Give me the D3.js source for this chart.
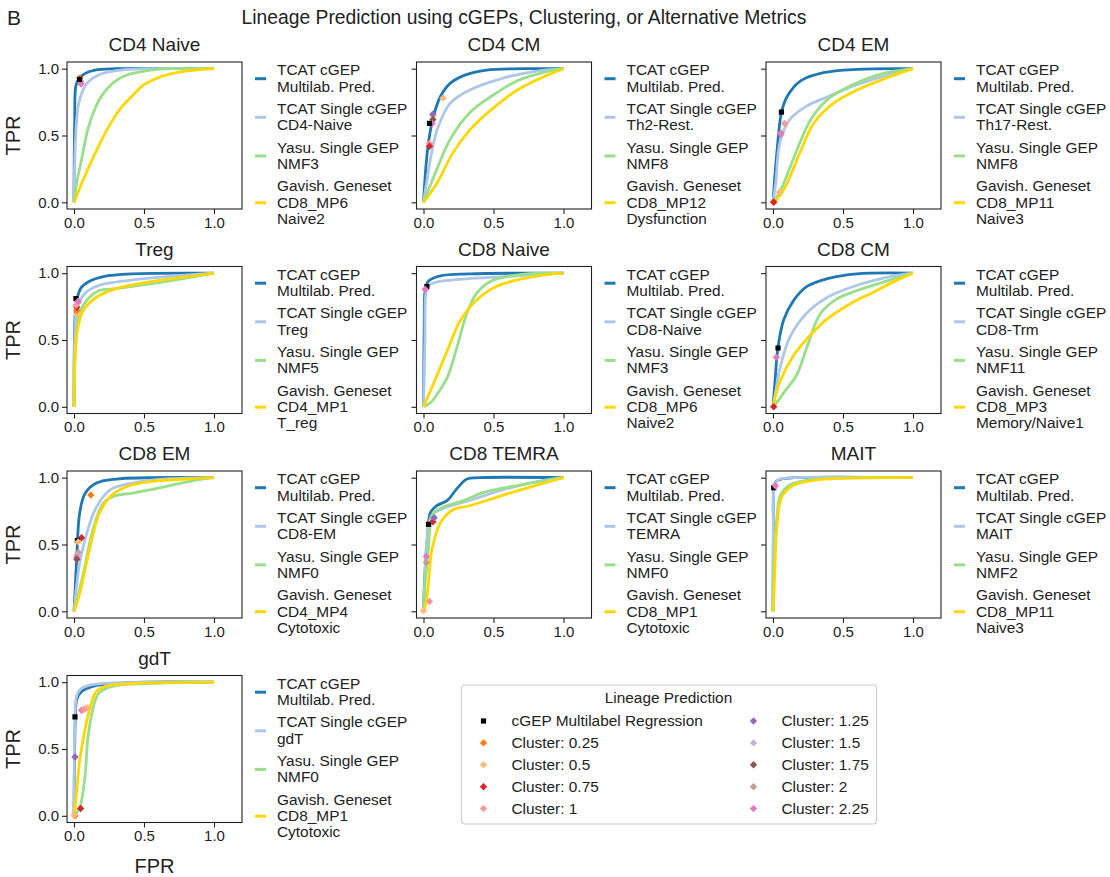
<html>
<head>
<style>
  body { margin: 0; background: #fff; }
  text { font-family: "Liberation Sans", Arial, sans-serif; fill: #222; }
</style>
</head>
<body>
<svg></svg>
<script src="https://d3js.org/d3.v7.min.js"></script>
<script>
// panel titles and legend labels
const titles = ["CD4 Naive", "CD4 CM", "CD4 EM", "Treg", "CD8 Naive", "CD8 CM",
                "CD8 EM", "CD8 TEMRA", "MAIT", "gdT"];
const singleLabels = ["CD4-Naive", "Th2-Rest.", "Th17-Rest.", "Treg", "CD8-Naive",
                      "CD8-Trm", "CD8-EM", "TEMRA", "MAIT", "gdT"];
const yasuLabels = ["NMF3", "NMF8", "NMF8", "NMF5", "NMF3", "NMF11", "NMF0", "NMF0", "NMF2", "NMF0"];
const gavishLabels = [["CD8_MP6", "Naive2"], ["CD8_MP12", "Dysfunction"], ["CD8_MP11", "Naive3"],
                      ["CD4_MP1", "T_reg"], ["CD8_MP6", "Naive2"], ["CD8_MP3", "Memory/Naive1"],
                      ["CD4_MP4", "Cytotoxic"], ["CD8_MP1", "Cytotoxic"], ["CD8_MP11", "Naive3"],
                      ["CD8_MP1", "Cytotoxic"]];

// ROC curves [fpr, tpr]
const multilabCurves = [
  [[0,0],[0.005,0.6],[0.015,0.88],[0.04,0.93],[0.08,0.965],[0.15,0.99],[0.3,1],[1,1]],
  [[0,0],[0.02,0.3],[0.04,0.48],[0.07,0.64],[0.12,0.79],[0.19,0.89],[0.29,0.95],[0.45,0.99],[0.7,1],[1,1]],
  [[0,0],[0.01,0.15],[0.03,0.4],[0.06,0.67],[0.1,0.79],[0.2,0.91],[0.36,0.97],[0.6,0.995],[1,1]],
  [[0,0],[0.003,0.5],[0.01,0.72],[0.02,0.8],[0.05,0.89],[0.11,0.94],[0.21,0.975],[0.42,0.995],[1,1]],
  [[0,0],[0.005,0.6],[0.012,0.87],[0.035,0.94],[0.12,0.98],[0.33,0.995],[1,1]],
  [[0,0],[0.015,0.2],[0.035,0.44],[0.076,0.65],[0.15,0.8],[0.24,0.9],[0.39,0.96],[0.6,0.995],[1,1]],
  [[0,0],[0.01,0.2],[0.02,0.41],[0.04,0.73],[0.078,0.88],[0.16,0.96],[0.3,0.99],[1,1]],
  [[0,0],[0.01,0.28],[0.03,0.58],[0.05,0.74],[0.095,0.79],[0.17,0.83],[0.24,0.92],[0.31,0.99],[0.4,1],[1,1]],
  [[0,0],[0.003,0.6],[0.006,0.92],[0.02,0.97],[0.06,0.99],[0.15,1],[1,1]],
  [[0,0],[0.004,0.45],[0.01,0.75],[0.02,0.87],[0.054,0.93],[0.14,0.97],[0.3,0.99],[0.5,1],[1,1]]
];
const singleCurves = [
  [[0,0],[0.01,0.45],[0.03,0.72],[0.06,0.83],[0.1,0.9],[0.18,0.955],[0.3,0.985],[0.5,1],[1,1]],
  [[0,0],[0.03,0.2],[0.06,0.38],[0.1,0.55],[0.19,0.74],[0.33,0.84],[0.57,0.93],[0.8,0.98],[1,1]],
  [[0,0],[0.02,0.15],[0.05,0.45],[0.12,0.62],[0.24,0.72],[0.39,0.79],[0.6,0.88],[0.84,0.96],[1,1]],
  [[0,0],[0.005,0.5],[0.015,0.7],[0.03,0.77],[0.09,0.86],[0.18,0.91],[0.42,0.95],[0.66,0.975],[1,1]],
  [[0,0],[0.01,0.5],[0.015,0.83],[0.03,0.9],[0.08,0.93],[0.21,0.95],[0.57,0.975],[1,1]],
  [[0,0],[0.02,0.12],[0.05,0.29],[0.12,0.52],[0.24,0.7],[0.39,0.82],[0.6,0.91],[0.84,0.975],[1,1]],
  [[0,0],[0.02,0.2],[0.04,0.36],[0.09,0.58],[0.16,0.78],[0.26,0.91],[0.42,0.96],[0.66,0.99],[1,1]],
  [[0,0],[0.01,0.25],[0.024,0.53],[0.06,0.72],[0.14,0.77],[0.33,0.83],[0.57,0.91],[0.81,0.97],[1,1]],
  [[0,0],[0.002,0.6],[0.005,0.9],[0.015,0.96],[0.05,0.99],[0.15,1],[1,1]],
  [[0,0],[0.003,0.5],[0.008,0.78],[0.02,0.9],[0.05,0.95],[0.12,0.98],[0.3,0.995],[1,1]]
];
const yasuCurves = [
  [[0,0],[0.02,0.15],[0.05,0.3],[0.1,0.55],[0.15,0.7],[0.2,0.8],[0.3,0.91],[0.4,0.96],[0.55,0.99],[0.7,1],[1,1]],
  [[0,0],[0.05,0.13],[0.1,0.26],[0.19,0.47],[0.33,0.67],[0.48,0.79],[0.67,0.91],[0.85,0.97],[1,1]],
  [[0,0],[0.04,0.06],[0.08,0.15],[0.17,0.39],[0.27,0.62],[0.39,0.77],[0.55,0.87],[0.77,0.96],[1,1]],
  [[0,0],[0.005,0.3],[0.015,0.5],[0.04,0.7],[0.11,0.82],[0.18,0.87],[0.3,0.885],[0.54,0.92],[0.78,0.96],[1,1]],
  [[0,0],[0.05,0.03],[0.1,0.1],[0.17,0.22],[0.24,0.45],[0.31,0.7],[0.38,0.85],[0.48,0.94],[0.69,0.99],[1,1]],
  [[0,0],[0.04,0.05],[0.08,0.11],[0.17,0.24],[0.24,0.44],[0.34,0.7],[0.46,0.81],[0.6,0.87],[0.84,0.95],[1,1]],
  [[0,0],[0.03,0.12],[0.066,0.28],[0.14,0.63],[0.21,0.81],[0.28,0.86],[0.42,0.885],[0.66,0.935],[0.89,0.985],[1,1]],
  [[0,0],[0.01,0.2],[0.03,0.41],[0.07,0.73],[0.14,0.78],[0.29,0.83],[0.43,0.89],[0.69,0.945],[1,1]],
  [[0,0],[0.005,0.3],[0.015,0.55],[0.03,0.72],[0.05,0.86],[0.12,0.945],[0.24,0.98],[0.4,0.995],[1,1]],
  [[0,0],[0.04,0.06],[0.078,0.29],[0.1,0.59],[0.14,0.82],[0.18,0.92],[0.28,0.97],[0.54,0.99],[1,1]]
];
const gavishCurves = [
  [[0,0],[0.05,0.13],[0.1,0.25],[0.18,0.43],[0.25,0.57],[0.33,0.7],[0.42,0.8],[0.5,0.88],[0.62,0.94],[0.75,0.975],[1,1]],
  [[0,0],[0.05,0.07],[0.1,0.15],[0.21,0.37],[0.33,0.54],[0.48,0.69],[0.67,0.84],[0.86,0.94],[1,1]],
  [[0,0],[0.05,0.05],[0.1,0.14],[0.2,0.39],[0.29,0.59],[0.43,0.74],[0.6,0.84],[0.81,0.93],[1,1]],
  [[0,0],[0.005,0.3],[0.02,0.55],[0.066,0.72],[0.16,0.82],[0.3,0.885],[0.54,0.935],[0.78,0.97],[1,1]],
  [[0,0],[0.07,0.17],[0.17,0.42],[0.26,0.64],[0.38,0.8],[0.52,0.9],[0.69,0.955],[0.88,0.99],[1,1]],
  [[0,0],[0.05,0.19],[0.15,0.39],[0.27,0.54],[0.39,0.66],[0.55,0.77],[0.72,0.86],[0.89,0.95],[1,1]],
  [[0,0],[0.04,0.13],[0.11,0.46],[0.18,0.73],[0.26,0.86],[0.37,0.93],[0.54,0.97],[0.8,0.99],[1,1]],
  [[0,0],[0.015,0.05],[0.03,0.155],[0.06,0.46],[0.12,0.66],[0.21,0.76],[0.33,0.79],[0.57,0.87],[0.81,0.945],[1,1]],
  [[0,0],[0.005,0.1],[0.012,0.28],[0.03,0.66],[0.064,0.86],[0.15,0.945],[0.29,0.98],[0.48,0.995],[1,1]],
  [[0,0],[0.02,0.19],[0.04,0.41],[0.078,0.64],[0.11,0.79],[0.16,0.93],[0.23,0.97],[0.42,0.99],[1,1]]
];

// lineage prediction points: [method index, fpr, tpr]; 0 = cGEP multilabel, 1..9 = clusters
const predictionPoints = [
  [[1,0.04,0.93],[2,0.045,0.91],[4,0.05,0.9],[9,0.05,0.885],[0,0.04,0.92]],
  [[2,0.14,0.78],[6,0.067,0.65],[5,0.067,0.66],[7,0.067,0.62],[9,0.062,0.59],[0,0.043,0.59],[4,0.043,0.44],[3,0.043,0.42]],
  [[0,0.06,0.675],[4,0.083,0.59],[8,0.057,0.52],[9,0.057,0.51],[2,0.045,0.075],[1,0.005,0.005],[3,0.005,0.0]],
  [[2,0.02,0.69],[1,0.02,0.72],[3,0.02,0.745],[4,0.014,0.76],[6,0.03,0.78],[0,0.014,0.81],[9,0.03,0.79]],
  [[0,0.024,0.9],[9,0.012,0.88]],
  [[0,0.036,0.44],[9,0.024,0.37],[3,0.005,0.0]],
  [[1,0.12,0.87],[3,0.054,0.55],[0,0.024,0.53],[2,0.03,0.52],[8,0.03,0.44],[6,0.02,0.42],[9,0.02,0.405],[7,0.02,0.39]],
  [[0,0.036,0.65],[3,0.067,0.67],[5,0.076,0.7],[9,0.02,0.41],[8,0.02,0.365],[4,0.043,0.073],[2,0.0,0.005]],
  [[0,0.005,0.925],[9,0.017,0.94]],
  [[0,0.007,0.74],[5,0.007,0.44],[9,0.054,0.79],[8,0.078,0.8],[2,0.095,0.81],[4,0.07,0.795],[3,0.047,0.055],[1,0.007,0.0],[2,0.0,0.005]]
];

const methodNames = ["cGEP Multilabel Regression", "Cluster: 0.25", "Cluster: 0.5", "Cluster: 0.75",
                     "Cluster: 1", "Cluster: 1.25", "Cluster: 1.5", "Cluster: 1.75", "Cluster: 2", "Cluster: 2.25"];
const methodColors = ["#000000", "#ff7f0e", "#ffbb78", "#d62728", "#ff9896",
                      "#9467bd", "#c5b0d5", "#8c564b", "#c49c94", "#e377c2"];
const curveColors = ["#1f77b4", "#aec7e8", "#98df8a", "#ffd700"];

const width = 1110, height = 877;
const svg = d3.select("svg").attr("width", width).attr("height", height);

// grid geometry
const colLeft = [67, 416.5, 766];
const rowTop = [62, 266.5, 471, 675.5];
const boxW = 175, boxH = 147;

const x = d3.scaleLinear().domain([-0.05, 1.2]).range([0, boxW]);
const y = d3.scaleLinear().domain([-0.05, 1.05]).range([boxH, 0]);
const line = d3.line()
    .x(function(d) { return x(d[0]); })
    .y(function(d) { return y(d[1]); })
    .curve(d3.curveCatmullRom.alpha(0.5));

// matplotlib-style "D" marker: a square turned 45 degrees
function marker(k) {
    if (k === 0) return "M-2.6,-2.6H2.6V2.6H-2.6Z";
    const r = 3.7;
    return "M0," + (-r) + "L" + r + ",0L0," + r + "L" + (-r) + ",0Z";
}

svg.append("text").attr("x", 7).attr("y", 25).style("font-size", "21px").text("B");
svg.append("text").attr("x", 524).attr("y", 24).attr("text-anchor", "middle")
    .style("font-size", "19.3px").text("Lineage Prediction using cGEPs, Clustering, or Alternative Metrics");

titles.forEach(function(title, i) {
    const col = i % 3, row = Math.floor(i / 3);
    const g = svg.append("g").attr("transform", "translate(" + colLeft[col] + "," + rowTop[row] + ")");

    g.append("text").attr("x", boxW / 2).attr("y", -11).attr("text-anchor", "middle")
        .style("font-size", "19px").text(title);

    // axes
    const xAxis = g.append("g").attr("transform", "translate(0," + boxH + ")")
        .call(d3.axisBottom(x).tickValues([0, 0.5, 1]).tickFormat(d3.format(".1f")).tickSize(5).tickPadding(3));
    const yAxis = g.append("g")
        .call(d3.axisLeft(y).tickValues([0, 0.5, 1]).tickFormat(col === 0 ? d3.format(".1f") : "").tickSize(5).tickPadding(3));
    [xAxis, yAxis].forEach(function(a) {
        a.select(".domain").remove();
        a.selectAll("line").attr("stroke", "#222").attr("stroke-width", 1.1);
        a.selectAll("text").style("font-size", "15px").attr("fill", "#222");
    });

    const clipId = "clip" + i;
    g.append("clipPath").attr("id", clipId).append("rect").attr("width", boxW).attr("height", boxH);
    const plot = g.append("g").attr("clip-path", "url(#" + clipId + ")");

    [multilabCurves[i], singleCurves[i], yasuCurves[i], gavishCurves[i]].forEach(function(pts, k) {
        plot.append("path").datum(pts)
            .attr("d", line)
            .attr("fill", "none")
            .attr("stroke", curveColors[k])
            .attr("stroke-width", 2.8)
            .attr("stroke-linejoin", "round");
    });

    plot.selectAll(".pt").data(predictionPoints[i]).join("path")
        .attr("class", "pt")
        .attr("transform", function(d) { return "translate(" + x(d[1]) + "," + y(d[2]) + ")"; })
        .attr("d", function(d) { return marker(d[0]); })
        .attr("fill", function(d) { return methodColors[d[0]]; });

    g.append("rect").attr("width", boxW).attr("height", boxH)
        .attr("fill", "none").attr("stroke", "#222").attr("stroke-width", 1.1);

    if (col === 0) {
        g.append("text").attr("transform", "translate(" + (13 - colLeft[0]) + "," + (boxH / 2) + ") rotate(-90)")
            .attr("text-anchor", "middle").attr("dy", "0.35em").style("font-size", "20px").text("TPR");
    }

    // per-panel legend
    const entries = [["TCAT cGEP", "Multilab. Pred."], ["TCAT Single cGEP", singleLabels[i]],
                     ["Yasu. Single GEP", yasuLabels[i]], ["Gavish. Geneset"].concat(gavishLabels[i])];
    const lineH = 16.4;
    let top = 8;
    entries.forEach(function(lines, k) {
        lines.forEach(function(t, j) {
            g.append("text").attr("x", boxW + 35).attr("y", top + j * lineH).attr("dy", "0.35em")
                .style("font-size", "15.4px").text(t);
        });
        const mid = top + (lines.length - 1) * lineH / 2;
        g.append("line").attr("x1", boxW + 13).attr("x2", boxW + 24).attr("y1", mid + 0.5).attr("y2", mid + 0.5)
            .attr("stroke", curveColors[k]).attr("stroke-width", 3);
        top += lines.length * lineH + 5.8;
    });
});

svg.append("text").attr("x", colLeft[0] + boxW / 2).attr("y", 873).attr("text-anchor", "middle")
    .style("font-size", "20px").text("FPR");

// shared legend for prediction points
const leg = svg.append("g").attr("transform", "translate(461.5,685)");
leg.append("rect").attr("width", 415).attr("height", 139).attr("rx", 3)
    .attr("fill", "#fff").attr("stroke", "#d0d0d0").attr("stroke-width", 1.2);
leg.append("text").attr("x", 207).attr("y", 13).attr("dy", "0.35em").attr("text-anchor", "middle")
    .style("font-size", "15.4px").text("Lineage Prediction");
methodNames.forEach(function(name, k) {
    const c = Math.floor(k / 5), r = k % 5;
    const ex = c === 0 ? 22 : 292, ey = 36 + r * 21.9;
    leg.append("path")
        .attr("transform", "translate(" + ex + "," + ey + ")")
        .attr("d", marker(k))
        .attr("fill", methodColors[k]);
    leg.append("text").attr("x", ex + 28).attr("y", ey).attr("dy", "0.35em")
        .style("font-size", "15.4px").text(name);
});
</script>
</body>
</html>
